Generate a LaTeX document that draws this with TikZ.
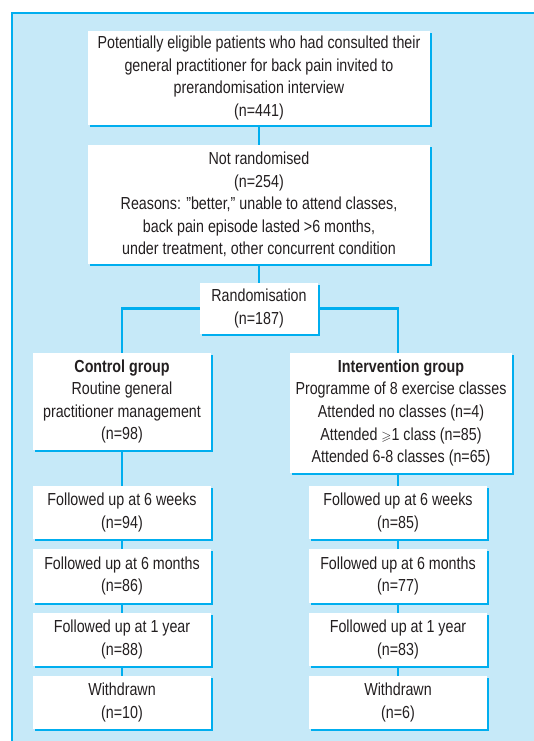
\documentclass[tikz,border=0pt]{standalone}
\usepackage{fontspec}
\usepackage{amssymb}
\setmainfont{Liberation Sans}[FakeStretch=0.82]
\usetikzlibrary{shadows}
\definecolor{paleblue}{HTML}{C6E9F8}
\definecolor{flowcyan}{HTML}{00AEEF}
\definecolor{inkgrey}{HTML}{231F20}
\newcommand{\slgeq}{{\fontsize{13}{13}\selectfont$\geqslant$}}
\tikzset{
  flowbox/.style={shape=rectangle, fill=white, inner sep=0pt, align=center,
    text=inkgrey, font=\fontsize{17.4}{22.6}\selectfont,
    general shadow={shadow xshift=2.3pt, shadow yshift=-2.3pt, fill=flowcyan}},
  flowline/.style={draw=flowcyan, line width=2.2pt}
}
\begin{document}
\begin{tikzpicture}[x=1pt,y=-1pt]
\useasboundingbox (0,0) rectangle (533,741);
% panel
\fill[paleblue] (12,13) rectangle (545,750);
\draw[flowcyan, line width=1.2pt] (12,750) -- (12,13) -- (545,13);

\node[flowbox, minimum width=342, minimum height=94] (invited) at (259,78)
  {Potentially eligible patients who had consulted their\\
   general practitioner for back pain invited to\\
   prerandomisation interview\\ (n=441)};
\node[flowbox, minimum width=342, minimum height=119] (notrand) at (259,204.5)
  {Not randomised\\ (n=254)\\
   Reasons: \symbol{34}better,\symbol{34} unable to attend classes,\\
   back pain episode lasted >6 months,\\
   under treatment, other concurrent condition};
\node[flowbox, minimum width=118, minimum height=51] (rand) at (259,308.5)
  {Randomisation\\ (n=187)};

\node[flowbox, minimum width=178, minimum height=97] (control) at (122,401.5)
  {\textbf{Control group}\\ Routine general\\ practitioner management\\ (n=98)};
\node[flowbox, minimum width=222, minimum height=120] (interv) at (401,413)
  {\textbf{Intervention group}\\ Programme of 8 exercise classes\\
   Attended no classes (n=4)\\ Attended \slgeq1 class (n=85)\\
   Attended 6-8 classes (n=65)};

% follow up, control arm
\node[flowbox, minimum width=178, minimum height=53] (cweeks) at (122,512.5)
  {Followed up at 6 weeks\\ (n=94)};
\node[flowbox, minimum width=178, minimum height=54] (cmonths) at (122,576)
  {Followed up at 6 months\\ (n=86)};
\node[flowbox, minimum width=178, minimum height=53] (cyear) at (122,639.5)
  {Followed up at 1 year\\ (n=88)};
\node[flowbox, minimum width=178, minimum height=53] (cwithdrawn) at (122,702.5)
  {Withdrawn\\ (n=10)};

% follow up, intervention arm
\node[flowbox, minimum width=178, minimum height=53] (iweeks) at (398,512.5)
  {Followed up at 6 weeks\\ (n=85)};
\node[flowbox, minimum width=178, minimum height=54] (imonths) at (398,576)
  {Followed up at 6 months\\ (n=77)};
\node[flowbox, minimum width=178, minimum height=53] (iyear) at (398,639.5)
  {Followed up at 1 year\\ (n=83)};
\node[flowbox, minimum width=178, minimum height=53] (iwithdrawn) at (398,702.5)
  {Withdrawn\\ (n=6)};

% connectors
\draw[flowline] (invited.south) -- (notrand.north);
\draw[flowline] (notrand.south) -- (rand.north);
\draw[flowline] (rand.west) -| (control.north);
\draw[flowline] (rand.east) -| (interv.north -| iweeks.north);
\draw[flowline] (control.south) -- (cweeks.north);
\draw[flowline] (cweeks.south) -- (cmonths.north);
\draw[flowline] (cmonths.south) -- (cyear.north);
\draw[flowline] (cyear.south) -- (cwithdrawn.north);
\draw[flowline] (interv.south -| iweeks.north) -- (iweeks.north);
\draw[flowline] (iweeks.south) -- (imonths.north);
\draw[flowline] (imonths.south) -- (iyear.north);
\draw[flowline] (iyear.south) -- (iwithdrawn.north);
\end{tikzpicture}
\end{document}
